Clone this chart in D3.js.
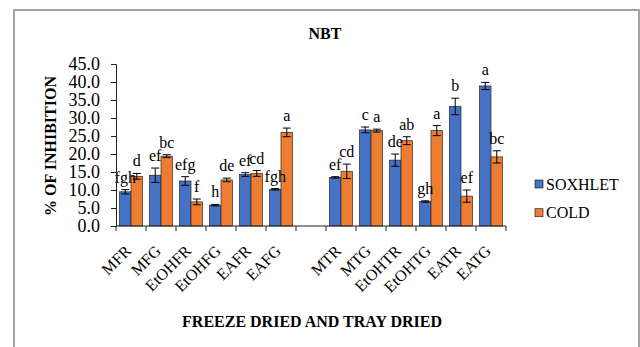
<!DOCTYPE html>
<html>
<head>
<meta charset="utf-8">
<script src="https://cdn.jsdelivr.net/npm/d3@7"></script>
<style>
  body { margin: 0; background: #fff; }
  svg text { font-family: 'Liberation Serif', 'Times New Roman', Times, serif !important; fill: #000; }
</style>
</head>
<body>
<div id="chart"></div>
<script>
const categories = ["MFR", "MFG", "EtOHFR", "EtOHFG", "EAFR", "EAFG",
                    "MTR", "MTG", "EtOHTR", "EtOHTG", "EATR", "EATG"];
const soxhlet    = [9.5, 14.1, 12.5, 5.8, 14.3, 10.2, 13.5, 26.7, 18.3, 6.8, 33.2, 38.9];
const soxhletErr = [0.6, 2.0, 1.2, 0.2, 0.5, 0.2, 0.2, 0.8, 1.7, 0.2, 2.3, 1.0];
const cold       = [13.8, 19.4, 6.7, 12.8, 14.6, 26.0, 15.2, 26.5, 23.7, 26.5, 8.3, 19.2];
const coldErr    = [0.8, 0.4, 0.8, 0.5, 0.8, 1.2, 2.0, 0.4, 1.1, 1.4, 1.7, 1.7];
const soxhletLetters = ["fgh", "ef", "efg", "h", "ef", "fgh", "ef", "c", "de", "gh", "b", "a"];
const coldLetters    = ["d", "bc", "f", "de", "cd", "a", "cd", "a", "ab", "a", "ef", "bc"];
const yTicks = [0, 5, 10, 15, 20, 25, 30, 35, 40, 45];
const seriesNames = ["SOXHLET", "COLD"];
const colors = ["#4472C4", "#ED7D31"];

const width = 640, height = 347;
const margin = { left: 116, right: 134, top: 64, bottom: 121 };
const serif = "'Liberation Serif', 'Times New Roman', Times, serif";

const svg = d3.select("#chart").append("svg")
    .attr("width", width)
    .attr("height", height)
    .attr("font-family", serif);

// outer frame (runs off the right and bottom edge like the source)
svg.append("rect")
    .attr("x", 14).attr("y", 10)
    .attr("width", 625).attr("height", 360)
    .attr("fill", "none")
    .attr("stroke", "#858585")
    .attr("stroke-width", 1.5);

// a blank slot separates freeze dried from tray dried
const domain = categories.slice(0, 6).concat(["gap"], categories.slice(6));

const x = d3.scaleBand()
    .domain(domain)
    .range([margin.left, width - margin.right]);

const inner = d3.scaleBand()
    .domain([0, 1])
    .range([0, x.bandwidth()])
    .paddingOuter(0.3);

const y = d3.scaleLinear()
    .domain([0, 45])
    .range([height - margin.bottom, margin.top]);

const rows = categories.map((c, i) => ({
    cat: c,
    vals: [
        { s: 0, v: soxhlet[i], e: soxhletErr[i], l: soxhletLetters[i] },
        { s: 1, v: cold[i], e: coldErr[i], l: coldLetters[i] }
    ]
}));

const groups = svg.append("g")
    .selectAll("g")
    .data(rows)
    .join("g")
    .attr("transform", d => `translate(${x(d.cat)},0)`);

groups.selectAll("rect")
    .data(d => d.vals)
    .join("rect")
    .attr("x", d => inner(d.s))
    .attr("y", d => y(d.v))
    .attr("width", inner.bandwidth())
    .attr("height", d => y(0) - y(d.v))
    .attr("fill", d => colors[d.s])
    .attr("stroke", "#2a2a2a")
    .attr("stroke-width", 0.7);

const err = groups.selectAll("g.err")
    .data(d => d.vals)
    .join("g")
    .attr("class", "err")
    .attr("stroke", "#000")
    .attr("stroke-width", 1);

const cx = d => inner(d.s) + inner.bandwidth() / 2;
err.append("line")
    .attr("x1", cx).attr("x2", cx)
    .attr("y1", d => y(d.v - d.e)).attr("y2", d => y(d.v + d.e));
err.append("line")
    .attr("x1", d => cx(d) - 4).attr("x2", d => cx(d) + 4)
    .attr("y1", d => y(d.v + d.e)).attr("y2", d => y(d.v + d.e));
err.append("line")
    .attr("x1", d => cx(d) - 4).attr("x2", d => cx(d) + 4)
    .attr("y1", d => y(d.v - d.e)).attr("y2", d => y(d.v - d.e));

groups.selectAll("text")
    .data(d => d.vals)
    .join("text")
    .attr("x", cx)
    .attr("y", d => y(d.v + d.e) - 7)
    .attr("text-anchor", "middle")
    .attr("font-size", 16)
    .text(d => d.l);

// y axis
const yAxis = svg.append("g")
    .attr("transform", `translate(${margin.left},0)`)
    .call(d3.axisLeft(y).tickValues(yTicks).tickFormat(d3.format(".1f"))
        .tickSize(5).tickPadding(11));
yAxis.attr("font-family", serif);
yAxis.select(".domain").attr("stroke", "#222");
yAxis.selectAll(".tick line").attr("stroke", "#222");
yAxis.selectAll("text")
    .attr("font-size", 18)
    .attr("fill", "#000");

// x axis: ticks sit between categories
const boundaries = domain.map(d => x(d)).concat([width - margin.right]);
const xAxis = svg.append("g")
    .attr("transform", `translate(0,${y(0)})`);
xAxis.append("line")
    .attr("x1", margin.left).attr("x2", width - margin.right)
    .attr("stroke", "#222");
xAxis.selectAll("line.tk")
    .data(boundaries)
    .join("line")
    .attr("class", "tk")
    .attr("x1", d => d).attr("x2", d => d)
    .attr("y1", 0).attr("y2", 5)
    .attr("stroke", "#222");

svg.append("g")
    .selectAll("text")
    .data(categories)
    .join("text")
    .attr("transform", d => `translate(${x(d) + x.bandwidth() / 2 + 1},252) rotate(-45)`)
    .attr("text-anchor", "end")
    .attr("font-size", 16)
    .text(d => d);

// titles
svg.append("text")
    .attr("x", 325).attr("y", 38.5)
    .attr("text-anchor", "middle")
    .attr("font-size", 16)
    .attr("font-weight", "bold")
    .text("NBT");

svg.append("text")
    .attr("transform", "translate(56,146) rotate(-90)")
    .attr("text-anchor", "middle")
    .attr("font-size", 16)
    .attr("font-weight", "bold")
    .text("% OF INHIBITION");

svg.append("text")
    .attr("x", 312).attr("y", 327)
    .attr("text-anchor", "middle")
    .attr("font-size", 16)
    .attr("font-weight", "bold")
    .text("FREEZE DRIED AND TRAY DRIED");

// legend
const legend = svg.append("g")
    .selectAll("g")
    .data(seriesNames)
    .join("g")
    .attr("transform", (d, i) => `translate(535,${184 + i * 28.7})`);
legend.append("rect")
    .attr("x", 0).attr("y", -4)
    .attr("width", 8).attr("height", 8)
    .attr("fill", (d, i) => colors[i])
    .attr("stroke", "#2a2a2a")
    .attr("stroke-width", 0.7);
legend.append("text")
    .attr("x", 11).attr("y", 0)
    .attr("dy", "0.35em")
    .attr("font-size", 16)
    .text(d => d);
</script>
</body>
</html>
